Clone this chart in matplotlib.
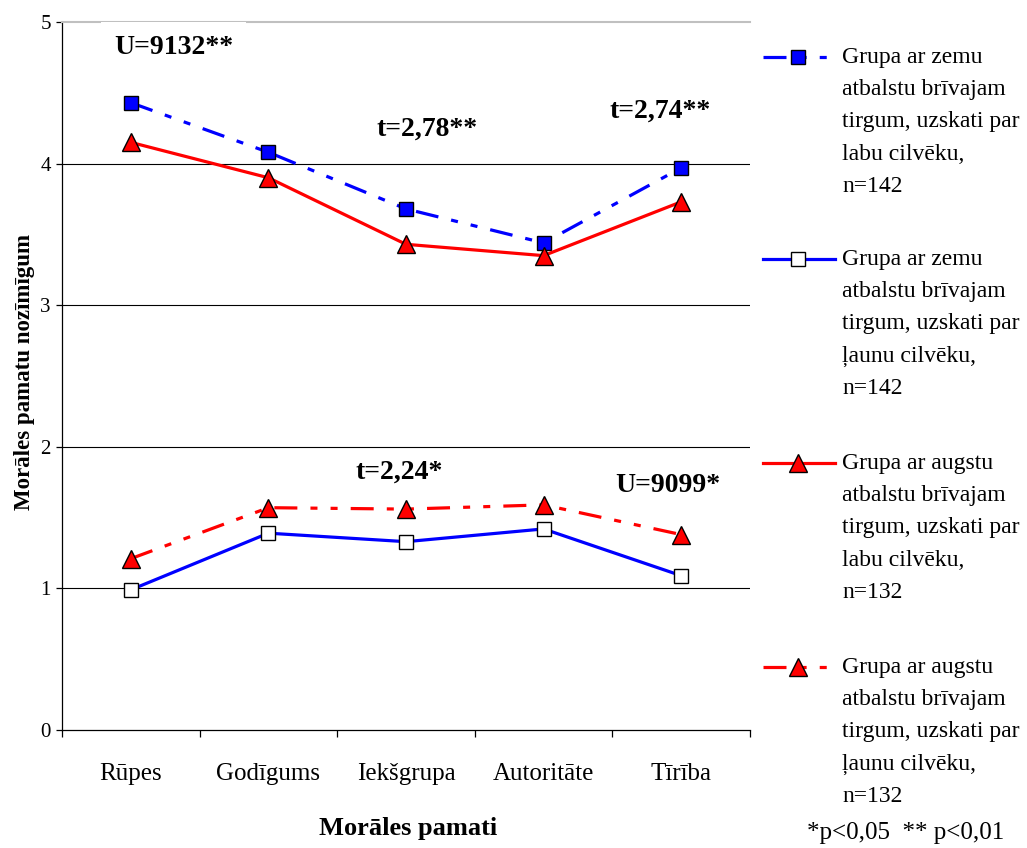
import matplotlib
matplotlib.use('Agg')
import matplotlib.pyplot as plt
from matplotlib.lines import Line2D

# ---------------- data ----------------
categories = ['Rūpes', 'Godīgums', 'Iekšgrupa', 'Autoritāte', 'Tīrība']
low_good = [4.43, 4.08, 3.68, 3.44, 3.97]    # zems atbalsts, labs cilvēks
low_bad = [0.99, 1.39, 1.33, 1.42, 1.09]     # zems atbalsts, ļauns cilvēks
high_good = [4.15, 3.90, 3.43, 3.35, 3.73]   # augsts atbalsts, labs cilvēks
high_bad = [1.21, 1.57, 1.56, 1.59, 1.38]    # augsts atbalsts, ļauns cilvēks

series_labels = [
    ['Grupa ar zemu', 'atbalstu brīvajam', 'tirgum, uzskati par', 'labu cilvēku,', 'n=142'],
    ['Grupa ar zemu', 'atbalstu brīvajam', 'tirgum, uzskati par', 'ļaunu cilvēku,', 'n=142'],
    ['Grupa ar augstu', 'atbalstu brīvajam', 'tirgum, uzskati par', 'labu cilvēku,', 'n=132'],
    ['Grupa ar augstu', 'atbalstu brīvajam', 'tirgum, uzskati par', 'ļaunu cilvēku,', 'n=132'],
]
annot_texts = ['U=9132**', 't=2,78**', 't=2,74**', 't=2,24*', 'U=9099*']
annot_x = [0.31, 2.15, 3.85, 1.95, 3.90]
annot_y = [4.82, 4.24, 4.37, 1.82, 1.73]
yticks = [0, 1, 2, 3, 4, 5]
xlabel = 'Morāles pamati'
ylabel = 'Morāles pamatu nozīmīgum'
footnote = '*p<0,05  ** p<0,01'

# ---------------- style ----------------
SERIF = ['Liberation Serif', 'DejaVu Serif']
plt.rcParams['font.family'] = SERIF
W, H = 1027, 848
fig = plt.figure(figsize=(W / 100, H / 100), dpi=100)
fig.patch.set_facecolor('white')

x0, x1, ytop, ybot = 62, 750, 22, 730
ax = fig.add_axes([x0 / W, (H - ybot) / H, (x1 - x0) / W, (ybot - ytop) / H])

lw = 2.3
dashdotdot = (0, (7.2, 4.1, 2.2, 4.1, 2.2, 4.1))
styles = [
    dict(color='#0000ff', ls=dashdotdot, marker='s', mfc='#0000ff', mec='black', ms=9.5, mew=1.0),
    dict(color='#0000ff', ls='-', marker='s', mfc='white', mec='black', ms=9.5, mew=1.0),
    dict(color='#ff0000', ls='-', marker='^', mfc='#ff0000', mec='black', ms=13, mew=1.0),
    dict(color='#ff0000', ls=dashdotdot, marker='^', mfc='#ff0000', mec='black', ms=13, mew=1.0),
]
data = [low_good, low_bad, high_good, high_bad]
xs = list(range(len(categories)))
for vals, st in zip(data, styles):
    ax.plot(xs, vals, lw=lw, zorder=4, clip_on=False, **st)

ax.set_xlim(-0.5, len(categories) - 0.5)
ax.set_ylim(0, 5)

# gridlines
for y in yticks[1:-1]:
    ax.axhline(y, color='black', lw=0.8, zorder=1)

ax.spines['right'].set_visible(False)
ax.spines['top'].set_color('#c0c0c0')
ax.spines['top'].set_linewidth(1.5)
ax.spines['left'].set_linewidth(0.9)
ax.spines['bottom'].set_linewidth(0.9)

ax.set_yticks(yticks)
ax.set_yticklabels([str(v) for v in yticks])
ax.tick_params(axis='y', length=4, width=0.9, labelsize=15, pad=4, direction='out')

ax.set_xticks(xs)
ax.set_xticklabels(categories)
ax.set_xticks([i - 0.5 for i in range(len(categories) + 1)], minor=True)
ax.tick_params(axis='x', which='major', length=0, labelsize=18, pad=24)
ax.tick_params(axis='x', which='minor', length=5, width=0.9, direction='out')

ax.set_xlabel(xlabel, fontsize=19, fontweight='bold', va='center')
ax.xaxis.set_label_coords((408 - x0) / (x1 - x0), (ybot - 828) / (ybot - ytop))
ax.set_ylabel(ylabel, fontsize=16.5, fontweight='bold', va='center')
ax.yaxis.set_label_coords((25 - x0) / (x1 - x0), (ybot - 372) / (ybot - ytop))

for i, (t, xa, ya) in enumerate(zip(annot_texts, annot_x, annot_y)):
    kw = {}
    if i == 0:
        kw['bbox'] = dict(boxstyle='square,pad=0.45', fc='white', ec='none')
    ax.text(xa, ya, t, fontsize=20, fontweight='bold', ha='center', va='center',
            zorder=5, clip_on=False, **kw)

# ---------------- legend (manual) ----------------
entry_y = [57, 259, 463, 667]
line_gap = 32.5
for st, lines, ey in zip(styles, series_labels, entry_y):
    yf = (H - ey) / H
    fig.add_artist(Line2D([763 / W, 835 / W], [yf, yf], color=st['color'], ls=st['ls'],
                          lw=lw, transform=fig.transFigure))
    fig.add_artist(Line2D([798 / W], [yf], ls='none', marker=st['marker'], mfc=st['mfc'],
                          mec=st['mec'], ms=st['ms'], mew=st['mew'], transform=fig.transFigure))
    for k, ln in enumerate(lines):
        fig.text(842 / W, (H - ey - k * line_gap) / H, ln, fontsize=17, ha='left', va='center')

fig.text(906 / W, (H - 833) / H, footnote, fontsize=18, ha='center', va='center')

fig.savefig('out.png', dpi=100, facecolor='white')
